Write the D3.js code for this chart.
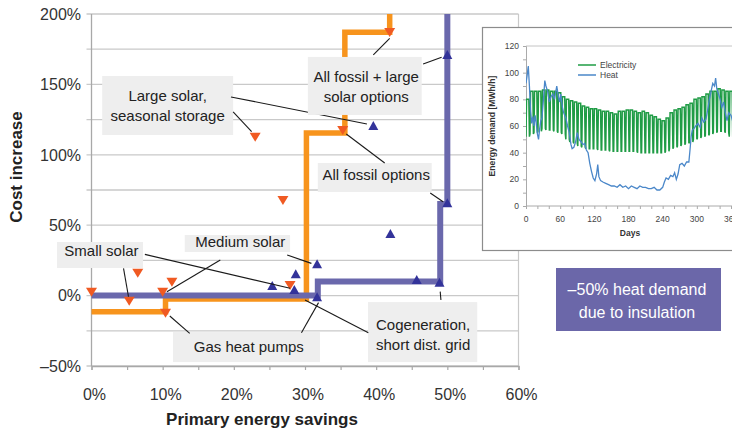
<!DOCTYPE html>
<html>
<head>
<meta charset="utf-8">
<script src="https://cdn.jsdelivr.net/npm/d3@7/dist/d3.min.js"></script>
<style>
  html, body { margin: 0; padding: 0; background: #fff; }
  svg { display: block; font-family: "Liberation Sans", Arial, Helvetica, sans-serif; }
</style>
</head>
<body>
<svg id="chart" width="732" height="434"></svg>
<script>
// ---- Main chart: cost increase vs primary energy savings ----
const xTickValues = [0, 10, 20, 30, 40, 50, 60];
const xTickLabels = ["0%", "10%", "20%", "30%", "40%", "50%", "60%"];
const xMinorTicks = [0, 5, 10, 15, 20, 25, 30, 35, 40, 45, 50, 55, 60];
const yTickValues = [-50, 0, 50, 100, 150, 200];
const yTickLabels = ["–50%", "0%", "50%", "100%", "150%", "200%"];
const yGridValues = [-50, -25, 0, 25, 50, 75, 100, 125, 150, 175, 200];

// cost-optimal frontier, current heat demand
const frontierCurrent = [
  [0, -11.5], [10.4, -11.5], [10.4, -2.5], [30.2, -2.5], [30.2, 115.5],
  [35.6, 115.5], [35.6, 187], [41.9, 187], [41.9, 200]
];
// cost-optimal frontier, heat demand halved by insulation
const frontierInsulated = [
  [0, 0], [31.8, 0], [31.8, 10], [49, 10], [49, 65], [50, 65], [50, 200]
];

// individual supply options (savings %, cost %)
const optionsCurrent = [
  [0, 2.8], [5.3, -3.6], [6.5, 16.3], [10.0, 2.8], [11.3, 9.9], [10.4, -12.1],
  [23.0, 112.9], [26.9, 67.9], [27.9, 7.5], [35.3, 117.6], [41.9, 187.2]
];
const optionsInsulated = [
  [39.6, 120.5], [42.0, 43.8], [25.4, 6.8], [28.7, 15.1], [28.5, 4.0], [31.7, 22.2],
  [31.7, -1.2], [45.7, 11.1], [48.9, 9.2], [50.0, 65.6], [50.0, 170.9]
];

// callout boxes: box = [x0, x1, yTop, yBottom], text = [x, first baseline], in axis units
const callouts = [
  { lines: ["Large solar,", "seasonal storage"], box: [1.5, 19.9, 156, 114.1], text: [10.7, 137.9],
    leaders: [[19.6, 141.1, 38.7, 121.9], [19.9, 130.4, 22.5, 116.4]] },
  { lines: ["All fossil + large", "solar options"], box: [30.4, 46.4, 169.5, 128.3], text: [38.6, 151.4],
    leaders: [[39.6, 170.9, 41.9, 182.7], [46.6, 164.5, 49.2, 169.3]] },
  { lines: ["All fossil options"], box: [31.8, 47.8, 94.2, 73.6], text: [40.0, 82.1],
    leaders: [[41.2, 94.2, 35.8, 114.8], [47.6, 72.9, 49.4, 66.7]] },
  { lines: ["Small solar"], box: [-4.85, 7.24, 38.1, 19.6], text: [1.4, 28.1],
    leaders: [[4.5, 19.4, 5.2, -0.8], [7.5, 29.3, 27.9, 5.2]] },
  { lines: ["Medium solar"], box: [13.1, 27.9, 43.0, 31.0], text: [20.9, 34.2],
    leaders: [[18.1, 25.3, 10.6, 2.8], [27.5, 28.8, 30.9, 22.9]] },
  { lines: ["Gas heat pumps"], box: [11.45, 32.1, -25.9, -47.2], text: [22.1, -40.1],
    leaders: [[13.8, -26.8, 11.0, -14.5], [29.5, -26.4, 31.9, -5.0]] },
  { lines: ["Cogeneration,", "short dist. grid"], box: [38.85, 54.2, -4.6, -47.2], text: [46.6, -24.4],
    leaders: [[38.9, -26.4, 30.0, -3.1], [49.1, -3.1, 49.0, 2.8]] }
];

// ---- Inset: annual demand profile ----
const insetDayTicks = [0, 60, 120, 180, 240, 300, 360];
const insetDayMinor = d3.range(0, 361, 20);
const insetDemandTicks = [0, 20, 40, 60, 80, 100, 120];
const insetDemandMinor = d3.range(0, 121, 10);

// weekly electricity peak (working days) and base (weekend), MWh/h
const weeklyPeak = [80, 86, 86, 86, 87, 87, 86, 86, 85, 82, 80, 79, 78, 77, 75, 74, 73, 73, 72, 71,
  71, 70, 69, 71, 71, 72, 72, 71, 70, 71, 70, 68, 67, 65, 64, 66, 70, 72, 73, 74,
  76, 77, 80, 81, 82, 84, 86, 86, 88, 87, 86, 86, 84];
const weeklyBase = [52, 54, 55, 56, 58, 57, 57, 56, 55, 54, 50, 48, 47, 45, 44, 43, 43, 43, 42, 42,
  42, 41, 41, 41, 41, 41, 41, 41, 40, 40, 40, 40, 40, 40, 40, 41, 43, 44, 45, 46,
  47, 48, 50, 51, 52, 53, 54, 55, 56, 56, 55, 52, 50];

// heat demand [day, MWh/h]
const heatDemand = [
  [0, 92], [2, 98], [4, 105], [6, 90], [8, 72], [10, 62], [12, 67], [14, 60], [16, 68], [18, 62],
  [20, 54], [22, 50], [24, 58], [26, 64], [28, 66], [31, 82], [33, 94], [35, 90], [38, 86], [41, 78],
  [44, 82], [47, 84], [50, 80], [54, 90], [57, 82], [59, 78], [61, 84], [64, 74], [66, 70], [70, 66],
  [73, 60], [76, 55], [79, 46], [81, 43], [84, 44], [87, 48], [90, 55], [93, 50], [97, 48], [100, 46],
  [103, 47], [106, 42], [109, 40], [112, 32], [115, 26], [118, 21], [121, 19], [124, 24], [126, 31], [128, 22],
  [131, 19], [135, 18], [140, 17], [145, 16], [150, 15], [155, 15], [160, 14], [165, 16], [170, 14], [175, 15],
  [180, 13], [185, 15], [190, 14], [195, 13], [200, 15], [205, 14], [210, 14], [215, 13], [220, 13], [225, 14],
  [230, 12], [235, 12], [240, 14], [243, 18], [246, 21], [250, 20], [254, 23], [258, 22], [261, 25], [264, 20],
  [267, 24], [270, 31], [274, 32], [278, 30], [282, 33], [286, 33], [288, 42], [290, 52], [292, 57], [295, 58],
  [298, 60], [302, 62], [306, 59], [309, 66], [312, 63], [316, 65], [319, 72], [322, 80], [325, 86], [328, 92],
  [331, 90], [333, 96], [335, 88], [338, 84], [341, 80], [344, 74], [347, 78], [350, 70], [353, 64], [356, 70],
  [360, 68], [364, 62]
];

// ---------------------------------------------------------------
const svg = d3.select("#chart");
const C = {
  orangeLine: "#f7941d", orangeMark: "#f05a22",
  blueLine: "#6a68ac", blueMark: "#33339a",
  grid: "#c9c9c9", axis: "#a8a8a8", text: "#222", box: "#eeeeee"
};

const x = d3.scaleLinear().domain([0, 60]).range([91.5, 518.5]);
const y = d3.scaleLinear().domain([-50, 200]).range([366, 14]);

// gridlines (every 25 %) with the short tick stubs on the left
svg.append("g").selectAll("line").data(yGridValues).join("line")
  .attr("x1", x(0) - 5).attr("x2", x(60))
  .attr("y1", d => y(d)).attr("y2", d => y(d))
  .attr("stroke", C.grid).attr("stroke-width", 1.3);

// plot frame: left axis, right edge
svg.append("line").attr("x1", x(0)).attr("x2", x(0)).attr("y1", y(200)).attr("y2", y(-50))
  .attr("stroke", C.axis).attr("stroke-width", 1.3);
svg.append("line").attr("x1", x(60)).attr("x2", x(60)).attr("y1", y(200)).attr("y2", y(-50))
  .attr("stroke", C.grid).attr("stroke-width", 1.2);

// bottom axis
const xAxis = d3.axisBottom(x).tickValues(xMinorTicks).tickSize(4).tickFormat("");
const gx = svg.append("g").attr("transform", `translate(0,${y(-50)})`).call(xAxis);
gx.select(".domain").attr("stroke", C.axis).attr("stroke-width", 1.3);
gx.selectAll(".tick line").attr("stroke", C.axis).attr("stroke-width", 1.2);

svg.append("g").selectAll("text").data(xTickValues).join("text")
  .attr("x", d => x(d) + 3).attr("y", 400)
  .attr("text-anchor", "middle").attr("font-size", 16).attr("fill", "#333")
  .text((d, i) => xTickLabels[i]);

svg.append("g").selectAll("text").data(yTickValues).join("text")
  .attr("x", 81).attr("y", d => y(d)).attr("dy", "0.36em")
  .attr("text-anchor", "end").attr("font-size", 16).attr("fill", "#333")
  .text((d, i) => yTickLabels[i]);

// axis titles
svg.append("text").attr("x", 262).attr("y", 425).attr("text-anchor", "middle")
  .attr("font-size", 17).attr("font-weight", "bold").attr("fill", C.text)
  .text("Primary energy savings");
svg.append("text").attr("transform", "translate(22,167) rotate(-90)").attr("text-anchor", "middle")
  .attr("font-size", 17).attr("font-weight", "bold").attr("fill", C.text)
  .text("Cost increase");

// frontier step lines
const line = d3.line().x(d => x(d[0])).y(d => y(d[1]));
svg.append("path").attr("d", line(frontierCurrent)).attr("fill", "none")
  .attr("stroke", C.orangeLine).attr("stroke-width", 5.5).attr("stroke-linejoin", "miter");
svg.append("path").attr("d", line(frontierInsulated)).attr("fill", "none")
  .attr("stroke", C.blueLine).attr("stroke-width", 6).attr("stroke-linejoin", "miter");

// option markers
const triDown = "M-5.5,-4 L5.5,-4 L0,5 Z";
const triUp = "M-5,4 L5,4 L0,-5 Z";
svg.append("g").selectAll("path").data(optionsCurrent).join("path")
  .attr("d", triDown).attr("transform", d => `translate(${x(d[0])},${y(d[1])})`)
  .attr("fill", C.orangeMark);
svg.append("g").selectAll("path").data(optionsInsulated).join("path")
  .attr("d", triUp).attr("transform", d => `translate(${x(d[0])},${y(d[1])})`)
  .attr("fill", C.blueMark);

// callouts
const gc = svg.append("g");
callouts.forEach(c => {
  gc.append("rect")
    .attr("x", x(c.box[0])).attr("y", y(c.box[2]))
    .attr("width", x(c.box[1]) - x(c.box[0])).attr("height", y(c.box[3]) - y(c.box[2]))
    .attr("fill", C.box);
  c.lines.forEach((t, i) => {
    gc.append("text").attr("x", x(c.text[0])).attr("y", y(c.text[1]) + i * 20)
      .attr("text-anchor", "middle").attr("font-size", 15).attr("fill", C.text).text(t);
  });
  c.leaders.forEach(l => {
    gc.append("line").attr("x1", x(l[0])).attr("y1", y(l[1])).attr("x2", x(l[2])).attr("y2", y(l[3]))
      .attr("stroke", "#1a1a1a").attr("stroke-width", 1.1);
  });
});

// insulation note
svg.append("rect").attr("x", 556).attr("y", 268).attr("width", 165).attr("height", 63).attr("fill", "#6b67a9");
["–50% heat demand", "due to insulation"].forEach((t, i) => {
  svg.append("text").attr("x", 637).attr("y", 295 + i * 23).attr("text-anchor", "middle")
    .attr("font-size", 16).attr("fill", "#fff").text(t);
});

// ---- inset panel ----
const gi = svg.append("g");
gi.append("rect").attr("x", 482.5).attr("y", 27.5).attr("width", 300).attr("height", 223)
  .attr("fill", "#fff").attr("stroke", "#8c8c8c").attr("stroke-width", 1.2);

const xi = d3.scaleLinear().domain([0, 360]).range([526, 731]);
const yi = d3.scaleLinear().domain([0, 120]).range([206, 46]);

gi.append("line").attr("x1", xi(0)).attr("x2", 740).attr("y1", yi(120)).attr("y2", yi(120))
  .attr("stroke", "#c4c4c4").attr("stroke-width", 1);

const xAxisI = d3.axisBottom(xi).tickValues(insetDayMinor).tickSize(3).tickFormat("");
const gxi = gi.append("g").attr("transform", `translate(0,${yi(0)})`).call(xAxisI);
gxi.select(".domain").attr("stroke", "#aaa").attr("d", `M${xi(0)},0H740`);
gxi.selectAll(".tick line").attr("stroke", "#aaa");

const yAxisI = d3.axisLeft(yi).tickValues(insetDemandMinor).tickSize(3).tickFormat("");
const gyi = gi.append("g").attr("transform", `translate(${xi(0)},0)`).call(yAxisI);
gyi.select(".domain").attr("stroke", "#aaa");
gyi.selectAll(".tick line").attr("stroke", "#aaa");

gi.append("g").selectAll("text").data(insetDayTicks).join("text")
  .attr("x", d => xi(d)).attr("y", 222).attr("text-anchor", "middle")
  .attr("font-size", 8.5).attr("fill", "#444").text(d => d);
gi.append("g").selectAll("text").data(insetDemandTicks).join("text")
  .attr("x", 519).attr("y", d => yi(d)).attr("dy", "0.35em").attr("text-anchor", "end")
  .attr("font-size", 8.5).attr("fill", "#444").text(d => d);
gi.append("text").attr("x", 630).attr("y", 235.5).attr("text-anchor", "middle")
  .attr("font-size", 8.5).attr("font-weight", "bold").attr("fill", "#333").text("Days");
gi.append("text").attr("transform", "translate(495,126) rotate(-90)").attr("text-anchor", "middle")
  .attr("font-size", 8.6).attr("font-weight", "bold").attr("fill", "#333").text("Energy demand [MWh/h]");

// electricity: working-day peak and weekend base for each week
const elec = [];
weeklyPeak.forEach((p, w) => {
  const d0 = w * 7;
  elec.push([d0, weeklyBase[w]], [d0 + 1, p], [d0 + 5, p], [d0 + 6, weeklyBase[w]]);
});
const lineI = d3.line().x(d => xi(d[0])).y(d => yi(d[1]));
const clipId = "insetClip";
gi.append("clipPath").attr("id", clipId).append("rect")
  .attr("x", xi(0)).attr("y", 30).attr("width", 220).attr("height", 180);
gi.append("path").attr("d", lineI(elec)).attr("fill", "none").attr("clip-path", `url(#${clipId})`)
  .attr("stroke", "#1f9c45").attr("stroke-width", 1.5);
gi.append("path").attr("d", lineI(heatDemand)).attr("fill", "none").attr("clip-path", `url(#${clipId})`)
  .attr("stroke", "#4a87c9").attr("stroke-width", 1.3);

// legend
[["Electricity", "#1f9c45"], ["Heat", "#4a87c9"]].forEach((e, i) => {
  gi.append("line").attr("x1", 578).attr("x2", 596).attr("y1", 65 + i * 10).attr("y2", 65 + i * 10)
    .attr("stroke", e[1]).attr("stroke-width", 1.5);
  gi.append("text").attr("x", 600).attr("y", 68 + i * 10).attr("font-size", 8.5).attr("fill", "#444").text(e[0]);
});
</script>
</body>
</html>
